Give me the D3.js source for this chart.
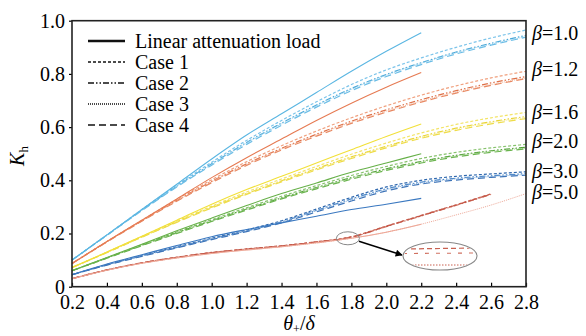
<!DOCTYPE html>
<html><head><meta charset="utf-8">
<script src="https://cdn.jsdelivr.net/npm/d3@7"></script>
<style>
body{margin:0;background:#fff;}
svg{display:block;}
svg text{font-family:"Liberation Serif","Times New Roman",serif;}
</style></head><body>
<svg id="c" width="586" height="336"></svg>
<script>
// ---- data ----
const xLinear = [0.2,0.4,0.6,0.8,1.0,1.2,1.4,1.6,1.8,2.0,2.2];
const xCase = [0.2,0.4,0.6,0.8,1.0,1.2,1.4,1.6,1.8,2.0,2.2,2.4,2.6,2.8];
const xTicks = [0.2,0.4,0.6,0.8,1.0,1.2,1.4,1.6,1.8,2.0,2.2,2.4,2.6,2.8];
const yTicks = [0,0.2,0.4,0.6,0.8,1.0];
const betaLabels = ["1.0","1.2","1.6","2.0","3.0","5.0"];
const betaLabelK = [0.955,0.82,0.655,0.548,0.435,0.355];
const legendLabels = ["Linear attenuation load","Case 1","Case 2","Case 3","Case 4"];

// beta = 1.0
const b10Linear = [0.10,0.195,0.29,0.385,0.48,0.57,0.65,0.73,0.81,0.885,0.955];
const b10Case1 = [0.10,0.195,0.29,0.382,0.468,0.55,0.625,0.695,0.76,0.815,0.86,0.9,0.935,0.965];
const b10Case2 = [0.10,0.194,0.288,0.378,0.462,0.542,0.615,0.683,0.745,0.798,0.842,0.882,0.915,0.945];
const b10Case3 = [0.10,0.194,0.287,0.377,0.46,0.54,0.612,0.68,0.742,0.795,0.84,0.88,0.912,0.94];
const b10Case4 = [0.10,0.193,0.286,0.375,0.457,0.535,0.607,0.675,0.737,0.79,0.835,0.875,0.908,0.938];
// beta = 1.2
const b12Linear = [0.087,0.17,0.25,0.33,0.41,0.485,0.555,0.625,0.69,0.75,0.805];
const b12Case1 = [0.087,0.17,0.25,0.328,0.402,0.47,0.53,0.585,0.635,0.68,0.72,0.755,0.785,0.81];
const b12Case2 = [0.087,0.169,0.248,0.324,0.396,0.462,0.52,0.573,0.622,0.665,0.703,0.737,0.766,0.79];
const b12Case3 = [0.087,0.169,0.247,0.323,0.394,0.46,0.518,0.57,0.618,0.66,0.698,0.732,0.76,0.785];
const b12Case4 = [0.087,0.168,0.246,0.321,0.391,0.456,0.514,0.566,0.614,0.656,0.694,0.728,0.757,0.782];
// beta = 1.6
const b16Linear = [0.072,0.13,0.19,0.25,0.31,0.365,0.415,0.465,0.515,0.565,0.612];
const b16Case1 = [0.072,0.13,0.189,0.247,0.303,0.356,0.405,0.452,0.498,0.54,0.578,0.61,0.635,0.655];
const b16Case2 = [0.072,0.129,0.187,0.244,0.299,0.35,0.398,0.444,0.488,0.528,0.565,0.596,0.62,0.64];
const b16Case3 = [0.072,0.129,0.187,0.243,0.298,0.349,0.397,0.442,0.486,0.526,0.562,0.593,0.617,0.636];
const b16Case4 = [0.072,0.128,0.186,0.242,0.296,0.347,0.394,0.439,0.482,0.522,0.558,0.588,0.612,0.632];
// beta = 2.0
const b20Linear = [0.06,0.11,0.16,0.21,0.258,0.305,0.35,0.39,0.43,0.465,0.50];
const b20Case1 = [0.06,0.109,0.158,0.206,0.252,0.297,0.34,0.38,0.418,0.452,0.482,0.505,0.522,0.535];
const b20Case2 = [0.06,0.108,0.156,0.203,0.248,0.292,0.334,0.373,0.41,0.443,0.471,0.494,0.511,0.524];
const b20Case3 = [0.06,0.108,0.155,0.202,0.247,0.291,0.333,0.372,0.408,0.441,0.469,0.492,0.509,0.521];
const b20Case4 = [0.06,0.107,0.154,0.2,0.245,0.288,0.33,0.368,0.404,0.437,0.465,0.488,0.505,0.518];
// beta = 3.0
const b30Linear = [0.045,0.085,0.12,0.155,0.188,0.215,0.24,0.265,0.29,0.31,0.332];
const b30Case1 = [0.045,0.083,0.117,0.15,0.182,0.213,0.248,0.292,0.336,0.375,0.40,0.415,0.424,0.432];
const b30Case2 = [0.045,0.082,0.116,0.148,0.18,0.21,0.244,0.287,0.33,0.368,0.393,0.408,0.417,0.425];
const b30Case3 = [0.045,0.082,0.115,0.147,0.179,0.209,0.243,0.285,0.327,0.365,0.39,0.405,0.414,0.422];
const b30Case4 = [0.045,0.081,0.114,0.146,0.177,0.207,0.24,0.281,0.322,0.36,0.386,0.401,0.411,0.419];
// beta = 5.0
const b50Linear = [0.03,0.062,0.088,0.108,0.125,0.138,0.15,0.165,0.182,0.205,0.235];
const b50Case1 = [0.03,0.063,0.09,0.111,0.129,0.142,0.154,0.169,0.188,0.228,0.268,0.308,0.349];
const b50Case2 = [0.03,0.063,0.089,0.11,0.128,0.141,0.153,0.168,0.186,0.226,0.266,0.306,0.347];
const b50Case3 = [0.03,0.062,0.088,0.108,0.125,0.138,0.15,0.165,0.182,0.205,0.235,0.27,0.307,0.35];
const b50Case4 = [0.03,0.063,0.09,0.11,0.128,0.141,0.153,0.168,0.186,0.227,0.267,0.307,0.348];

// ---- styles ----
const groups = [
  {lin:b10Linear, cases:[b10Case1,b10Case2,b10Case3,b10Case4], c:"#5ab6e2", cc:["#7cc4ea","#4aa8d8","#9ad2ef","#6bbde6"]},
  {lin:b12Linear, cases:[b12Case1,b12Case2,b12Case3,b12Case4], c:"#e67a52", cc:["#f0a07e","#de7048","#f4b89c","#e88a64"]},
  {lin:b16Linear, cases:[b16Case1,b16Case2,b16Case3,b16Case4], c:"#f2e038", cc:["#f3e468","#e9d430","#f6ea8c","#eedc48"]},
  {lin:b20Linear, cases:[b20Case1,b20Case2,b20Case3,b20Case4], c:"#66b048", cc:["#86c26c","#4e9e34","#a2d28a","#6ab44e"]},
  {lin:b30Linear, cases:[b30Case1,b30Case2,b30Case3,b30Case4], c:"#3a78c0", cc:["#2f68ae","#4a86c8","#86b0dc","#3e74b8"]},
  {lin:b50Linear, cases:[b50Case1,b50Case2,b50Case3,b50Case4], c:"#eea898", cc:["#c86050","#d07060","#eeaa9a","#c45848"]}
];
const dashes = ["3,2","6,2,1.5,2,1.5,2","1,1","7,4"];
const caseWidth = [1.2,1.2,1.0,1.2];
const FF = "'Liberation Serif','Times New Roman',serif";
const FS = 20;

const svg = d3.select("#c");
const L=72, R=526, T=20.7, B=286.7;
const x = d3.scaleLinear().domain([0.2,2.8]).range([L,R]);
const y = d3.scaleLinear().domain([0,1]).range([B,T]);
const line = d3.line().x(d=>x(d[0])).y(d=>y(d[1])).curve(d3.curveMonotoneX);

const plot = svg.append("g");
groups.forEach(g=>{
  g.cases.forEach((vals,i)=>{
    plot.append("path").datum(vals.map((v,k)=>[xCase[k],v]))
      .attr("d",line).attr("fill","none").attr("stroke",g.cc[i])
      .attr("stroke-width",caseWidth[i]).attr("stroke-dasharray",dashes[i]);
  });
  plot.append("path").datum(g.lin.map((v,k)=>[xLinear[k],v]))
    .attr("d",line).attr("fill","none").attr("stroke",g.c).attr("stroke-width",1.1);
});

// axes
const fmt = d=> d===0 ? "0" : d3.format(".1f")(d);
const gx = svg.append("g").attr("transform",`translate(0,${B})`)
  .call(d3.axisBottom(x).tickValues(xTicks).tickFormat(d3.format(".1f")).tickSizeInner(-4).tickSizeOuter(0).tickPadding(8));
const gy = svg.append("g").attr("transform",`translate(${L},0)`)
  .call(d3.axisLeft(y).tickValues(yTicks).tickFormat(fmt).tickSizeInner(3).tickSizeOuter(0).tickPadding(4));
[gx,gy].forEach(g=>{
  g.attr("font-family",FF).attr("font-size",FS);
  g.select(".domain").remove();
  g.selectAll("line").attr("stroke","#000").attr("stroke-width",1.2);
  g.selectAll("text").attr("font-family",FF).attr("font-size",FS).attr("fill","#000");
});
svg.append("rect").attr("x",L).attr("y",T).attr("width",R-L).attr("height",B-T)
  .attr("fill","none").attr("stroke","#222").attr("stroke-width",1.6);

// axis titles
const yt = svg.append("text").attr("transform","translate(24,156) rotate(-90)")
  .attr("text-anchor","middle").attr("font-size",FS).attr("font-family",FF);
yt.append("tspan").attr("font-style","italic").text("K");
yt.append("tspan").attr("font-size",13).attr("dy",4).text("h");

const xt = svg.append("text").attr("x",299).attr("y",330).attr("text-anchor","middle")
  .attr("font-size",FS).attr("font-family",FF);
xt.append("tspan").attr("font-style","italic").text("θ");
xt.append("tspan").attr("font-size",12).attr("dy",2.5).text("+");
xt.append("tspan").attr("dy",-2.5).text("/");
xt.append("tspan").attr("font-style","italic").text("δ");

// right beta labels
betaLabels.forEach((b,i)=>{
  const t = svg.append("text").attr("x",532).attr("y",y(betaLabelK[i])).attr("dy","0.35em")
    .attr("font-size",FS).attr("font-family",FF);
  t.append("tspan").attr("font-style","italic").text("β");
  t.append("tspan").text("="+b);
});

// legend
legendLabels.forEach((lab,i)=>{
  const yy = 41 + i*21;
  svg.append("line").attr("x1",88).attr("x2",125).attr("y1",yy).attr("y2",yy)
    .attr("stroke","#111").attr("stroke-width", i===0?2.4:1.6)
    .attr("stroke-dasharray", i===0?null:dashes[i-1]);
  svg.append("text").attr("x",135).attr("y",yy).attr("dy","0.33em")
    .attr("font-size",FS).attr("font-family",FF).text(lab);
});

// inset zoom
const cx0 = x(1.78), cy0 = y(0.182);
svg.append("ellipse").attr("cx",cx0).attr("cy",cy0).attr("rx",11.5).attr("ry",6.5)
  .attr("fill","none").attr("stroke","#888").attr("stroke-width",1);
const bx=440, by=256, brx=37, bry=14;
svg.append("defs").append("marker").attr("id","ah").attr("viewBox","0 0 10 10")
  .attr("refX",9).attr("refY",5).attr("markerWidth",9).attr("markerHeight",7).attr("orient","auto")
  .attr("markerUnits","userSpaceOnUse")
  .append("path").attr("d","M0,0L10,5L0,10z").attr("fill","#000");
svg.append("line").attr("x1",cx0+11).attr("y1",cy0+3).attr("x2",bx-brx-1).attr("y2",by-1)
  .attr("stroke","#000").attr("stroke-width",1.4).attr("marker-end","url(#ah)");
svg.select("defs").append("clipPath").attr("id","ec").append("ellipse")
  .attr("cx",bx).attr("cy",by).attr("rx",brx-1).attr("ry",bry-1);
const ins = svg.append("g").attr("clip-path","url(#ec)");
ins.append("line").attr("x1",bx-brx).attr("x2",bx+brx).attr("y1",by-7).attr("y2",by-8)
  .attr("stroke","#c86050").attr("stroke-width",1.2).attr("stroke-dasharray","5,3");
ins.append("line").attr("x1",bx-brx).attr("x2",bx+brx).attr("y1",by-2.5).attr("y2",by-3)
  .attr("stroke","#d07060").attr("stroke-width",1.1).attr("stroke-dasharray","4,7");
ins.append("line").attr("x1",bx-brx).attr("x2",bx+brx).attr("y1",by+9).attr("y2",by+9)
  .attr("stroke","#c86050").attr("stroke-width",1).attr("stroke-dasharray","1.5,1.5");
svg.append("ellipse").attr("cx",bx).attr("cy",by).attr("rx",brx).attr("ry",bry)
  .attr("fill","none").attr("stroke","#888").attr("stroke-width",1.1);
</script>
</body></html>
